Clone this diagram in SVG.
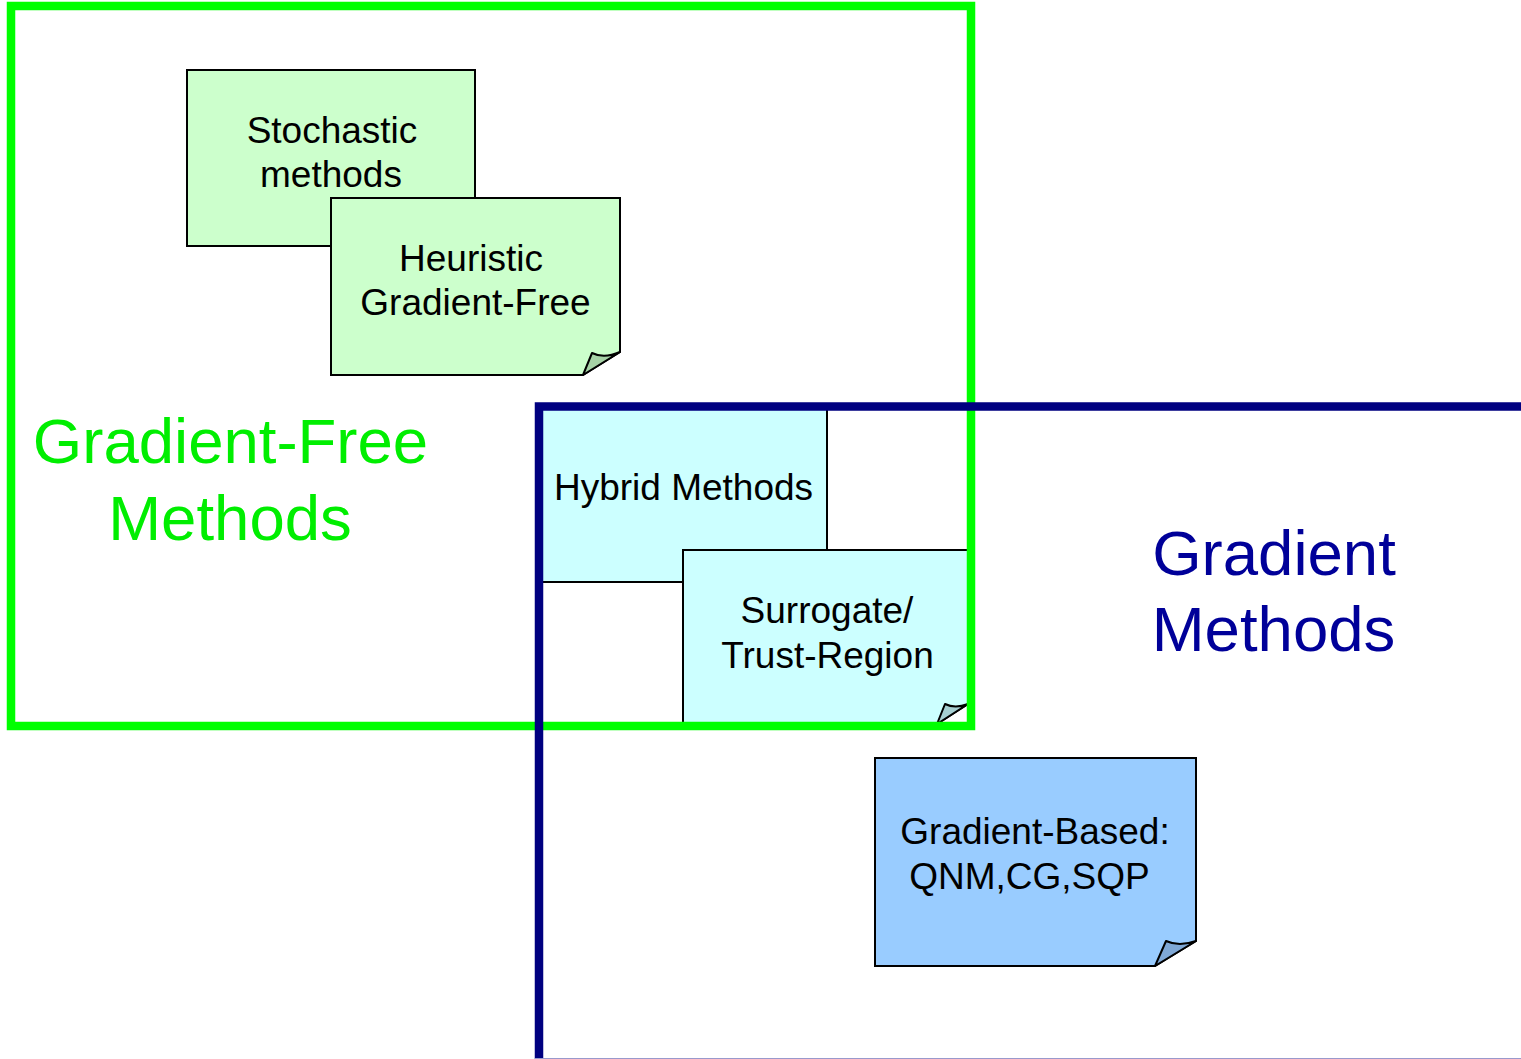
<svg xmlns="http://www.w3.org/2000/svg" width="1521" height="1059" viewBox="0 0 1521 1059">
<style>
.note{stroke:#000;stroke-width:2;stroke-linejoin:miter}
.fold{stroke:#000;stroke-width:2;stroke-linejoin:round}
.t{font-family:"Liberation Sans",Arial,sans-serif;font-size:37px;fill:#000;text-anchor:middle}
.big{font-family:"Liberation Sans",Arial,sans-serif;font-size:63.5px;text-anchor:middle}
</style>
<rect x="0" y="0" width="1521" height="1059" fill="#fff"/>
<g id="stochastic">
<rect class="note" x="187" y="70" width="288" height="176" fill="#ccffcc"/>
<text class="t" x="332" y="143">Stochastic</text>
<text class="t" x="331" y="187">methods</text>
</g>
<g id="heuristic">
<path class="note" d="M331,198 H620 V352 L583,375 H331 Z" fill="#ccffcc"/>
<path class="fold" d="M583,375 L592,353 Q604,359 620,352 Z" fill="#a6d2a6"/>
<text class="t" x="471" y="271">Heuristic</text>
<text class="t" x="475.5" y="315">Gradient-Free</text>
</g>
<g id="hybrid">
<rect class="note" x="541" y="409" width="286" height="173" fill="#ccffff"/>
<text class="t" x="683.5" y="500">Hybrid Methods</text>
</g>
<g id="surrogate">
<path class="note" d="M683,550 H968 V704 L937,724 H683 Z" fill="#ccffff"/>
<path class="fold" d="M937,724 L945,704 Q955,709 968,704 Z" fill="#a6cfd2"/>
<text class="t" x="827" y="623">Surrogate/</text>
<text class="t" x="827.5" y="668">Trust-Region</text>
</g>
<g id="gradient-based">
<path class="note" d="M875,758 H1196 V941 L1155,966 H875 Z" fill="#99ccff"/>
<path class="fold" d="M1155,966 L1166,941 Q1179,947 1196,941 Z" fill="#7fa8d6"/>
<text class="t" x="1035" y="844">Gradient-Based:</text>
<text class="t" x="1029.5" y="889">QNM,CG,SQP</text>
</g>
<g id="gradient-free-region">
<rect x="11" y="6" width="960" height="720" fill="none" stroke="#00ff00" stroke-width="8.5"/>
<text class="big" x="230.5" y="463" fill="#00ee00">Gradient-Free</text>
<text class="big" x="230" y="540" fill="#00ee00">Methods</text>
</g>
<g id="gradient-region">
<path d="M539,1059 V406.5 H1521" fill="none" stroke="#000080" stroke-width="8.5"/>
<line x1="535" y1="1058.5" x2="1521" y2="1058.5" stroke="#9999cc" stroke-width="1"/>
<text class="big" x="1274" y="575" fill="#000099">Gradient</text>
<text class="big" x="1273.5" y="651" fill="#000099">Methods</text>
</g>
<g id="connectors"></g>
</svg>
